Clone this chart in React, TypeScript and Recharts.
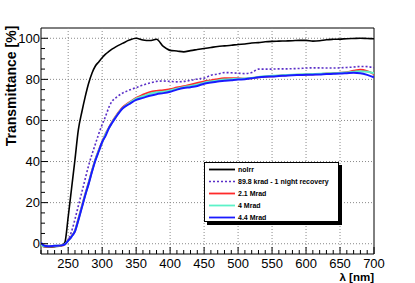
import React from "react";
import { LineChart, Line, XAxis, YAxis, ReferenceLine, ReferenceArea } from "recharts";

const wavelength = [
  210, 215, 220, 230, 240, 245, 250, 255, 260, 265, 270, 275, 280, 285, 290, 295, 300, 305, 310, 315, 320,
  330, 340, 350, 360, 370, 380, 390, 400, 410, 420, 430, 440, 450, 460, 470, 480, 490, 500, 510, 520, 530,
  540, 550, 560, 570, 580, 590, 600, 610, 620, 630, 640, 650, 660, 670, 680, 690, 700,
];

const noIrr = [
  -0.5, -1.5, -1.6, -1.4, -1.0, 0.5, 13, 27, 41, 55.5, 64, 71.5, 78, 83, 86.5, 88.5, 90.5, 92.3, 93.6, 94.8, 95.8,
  97.5, 99.1, 100, 99.2, 98.9, 99.5, 96, 94.1, 93.8, 93.4, 94, 94.5, 95, 95.5, 96, 96.3, 96.6, 97, 97.2, 97.7, 97.9,
  98.3, 98.5, 98.6, 98.7, 98.8, 99, 99, 98.6, 98.8, 99.3, 99.5, 99.6, 99.8, 99.9, 100, 99.9, 99.8,
];

const krad89 = [
  -0.5, -1.2, -1.2, -1.0, -0.8, -0.2, 2, 6, 12, 18.5, 25, 31.5, 38, 43.5, 48.5, 53.5, 58, 62, 66.5, 69.5, 71,
  73.3, 74.8, 76, 77.2, 78.2, 79, 79.2, 79, 78.8, 79, 79.5, 80.2, 80.6, 82, 82.6, 83.3, 83.2, 83, 82.8, 83.3, 85,
  85, 85, 85.1, 85.1, 85.2, 85.3, 85.5, 85.6, 85.6, 85.5, 85.5, 85.6, 85.8, 86, 86.3, 86.2, 85.7,
];

const mrad21 = [
  -1, -1.3, -1.3, -1.1, -0.9, -0.3, 1.6, 3.7, 6.3, 12, 18, 24, 29.5, 35.5, 41, 45.5, 49.5, 53.5, 56.5, 59.5, 62,
  66.3, 68.8, 71, 72.5, 73.8, 74.4, 74.7, 75.2, 76, 76.6, 77.4, 78.2, 79, 79.5, 80.1, 80.5, 80.6, 80.5, 80.3, 80.6, 81,
  81.3, 81.5, 81.8, 82, 82.1, 82.2, 82.4, 82.5, 82.6, 82.8, 83, 83.2, 83.5, 84.2, 84.7, 84, 82.5,
];

const mrad4 = [
  -0.8, -1.2, -1.2, -1.0, -0.8, -0.3, 1.5, 3.6, 6.2, 11.8, 17.8, 23.8, 29.3, 35.3, 40.8, 45.3, 49.3, 53.3, 56.3, 59.3, 61.8,
  66, 68.5, 70.6, 71.8, 73, 73.7, 74, 74.6, 75.5, 76.2, 76.8, 77.5, 78.4, 79, 79.5, 79.9, 80.1, 80.3, 80.4, 80.7, 81.2,
  81.5, 81.7, 81.9, 82.1, 82.3, 82.4, 82.5, 82.6, 82.7, 82.9, 83, 83.1, 83.4, 83.7, 84, 83.7, 83,
];

const mrad44 = [
  0.5, -1, -1.2, -1.0, -0.8, -0.3, 1.5, 3.5, 6, 11.5, 17.5, 23.5, 29, 35, 40.5, 45, 49.5, 52.5, 56.3, 59, 61.5,
  65.8, 68, 70, 71, 72, 72.8, 73.3, 74, 75, 75.8, 76.2, 76.8, 77.9, 78.5, 79, 79.3, 79.6, 79.9, 80.1, 80.5, 81,
  81.3, 81.4, 81.6, 81.8, 82, 82.1, 82.2, 82.3, 82.4, 82.6, 82.7, 82.8, 83, 83.2, 83, 82.2, 81,
];

const xTicks = [210, 220, 230, 240, 250, 260, 270, 280, 290, 300, 310, 320, 330, 340, 350, 360, 370, 380, 390, 400, 410, 420, 430, 440, 450, 460, 470, 480, 490, 500, 510, 520, 530, 540, 550, 560, 570, 580, 590, 600, 610, 620, 630, 640, 650, 660, 670, 680, 690, 700];
const xMajor = [250, 300, 350, 400, 450, 500, 550, 600, 650, 700];
const yTicks = [0, 5, 10, 15, 20, 25, 30, 35, 40, 45, 50, 55, 60, 65, 70, 75, 80, 85, 90, 95, 100];
const yMajor = [0, 20, 40, 60, 80, 100];

const series = [
  { key: "noIrr", name: "noIrr", color: "#000000", width: 1.6, dash: undefined },
  { key: "krad89", name: "89.8 krad - 1 night recovery", color: "#5a2fc8", width: 1.6, dash: "2 2" },
  { key: "mrad21", name: "2.1 Mrad", color: "#ff2a2a", width: 2, dash: undefined },
  { key: "mrad4", name: "4 Mrad", color: "#5cf2c8", width: 2, dash: undefined },
  { key: "mrad44", name: "4.4 Mrad", color: "#1a1aff", width: 2, dash: undefined },
];

const data = wavelength.map((w, i) => ({
  w,
  noIrr: noIrr[i],
  krad89: krad89[i],
  mrad21: mrad21[i],
  mrad4: mrad4[i],
  mrad44: mrad44[i],
}));

const FONT = "'Liberation Sans', Arial, Helvetica, sans-serif";
const LEFT = 41;
const BOTTOM = 254;

const XTick = (props: any) => {
  const { x, payload } = props;
  const v = payload.value;
  const major = xMajor.includes(v);
  return (
    <g>
      <line x1={x} x2={x} y1={BOTTOM} y2={BOTTOM - (major ? 7 : 4)} stroke="#000" strokeWidth={1} />
      {major && (
        <text x={x} y={267.5} textAnchor="middle" fontSize={13} fontFamily={FONT} fill="#000">
          {v}
        </text>
      )}
    </g>
  );
};

const YTick = (props: any) => {
  const { y, payload } = props;
  const v = payload.value;
  const major = yMajor.includes(v);
  return (
    <g>
      <line x1={LEFT} x2={LEFT + (major ? 7 : 4)} y1={y} y2={y} stroke="#000" strokeWidth={1} />
      {major && (
        <text x={40} y={y + 4.7} textAnchor="end" fontSize={13} fontFamily={FONT} fill="#000">
          {v}
        </text>
      )}
    </g>
  );
};

function YTitle() {
  return (
    <text
      x={15.5}
      y={86}
      transform="rotate(-90 15.5 86)"
      textAnchor="middle"
      fontSize={14}
      fontWeight="bold"
      fontFamily={FONT}
      fill="#000"
    >
      Transmittance [%]
    </text>
  );
}

function XTitle() {
  return (
    <text x={374} y={280.5} textAnchor="end" fontSize={11.5} fontWeight="bold" fontFamily={FONT} fill="#000">
      λ [nm]
    </text>
  );
}

function LegendBox() {
  return (
    <div
      style={{
        position: "absolute",
        left: 204,
        top: 162,
        width: 133,
        height: 58,
        border: "1px solid #000",
        background: "#fff",
        boxShadow: "3px 3px 0 #000",
        fontFamily: FONT,
      }}
    >
      {series.map((s, i) => (
        <div key={s.key} style={{ position: "absolute", left: 0, top: 1 + i * 12, height: 11, width: 133 }}>
          <svg width={30} height={11} style={{ position: "absolute", left: 3, top: 0 }}>
            <line
              x1={1}
              x2={27}
              y1={5.5}
              y2={5.5}
              stroke={s.color}
              strokeWidth={s.dash ? 1.5 : 1.8}
              strokeDasharray={s.dash}
            />
          </svg>
          <span
            style={{
              position: "absolute",
              left: 33,
              top: 0,
              fontSize: 7,
              lineHeight: "11px",
              fontWeight: "bold",
              whiteSpace: "nowrap",
              color: "#000",
            }}
          >
            {s.name}
          </span>
        </div>
      ))}
    </div>
  );
}

export default function App() {
  return (
    <div style={{ position: "absolute", left: 0, top: 0, width: 415, height: 283, background: "#fff" }}>
      <LineChart width={415} height={283} data={data} margin={{ top: 28, right: 41, bottom: 9, left: 8 }}>
        <XAxis
          dataKey="w"
          type="number"
          domain={[210, 700]}
          ticks={xTicks}
          interval={0}
          tick={<XTick />}
          tickLine={false}
          axisLine={false}
          height={20}
          allowDataOverflow
          label={<XTitle />}
        />
        <YAxis
          type="number"
          domain={[-5, 105]}
          ticks={yTicks}
          interval={0}
          tick={<YTick />}
          tickLine={false}
          axisLine={false}
          width={33}
          allowDataOverflow
          label={<YTitle />}
        />
        {xMajor
          .filter((v) => v < 700)
          .map((v) => (
            <ReferenceLine key={"gx" + v} x={v} stroke="#8a8a8a" strokeDasharray="1 2" strokeWidth={1} />
          ))}
        {yMajor.map((v) => (
          <ReferenceLine key={"gy" + v} y={v} stroke="#8a8a8a" strokeDasharray="1 2" strokeWidth={1} />
        ))}
        {series.map((s) => (
          <Line
            key={s.key}
            dataKey={s.key}
            name={s.name}
            type="monotone"
            stroke={s.color}
            strokeWidth={s.width}
            strokeDasharray={s.dash}
            dot={false}
            isAnimationActive={false}
          />
        ))}
        <ReferenceArea x1={210} x2={700} y1={-5} y2={105} fill="none" stroke="#000" strokeWidth={1} ifOverflow="visible" />
      </LineChart>
      <LegendBox />
    </div>
  );
}
